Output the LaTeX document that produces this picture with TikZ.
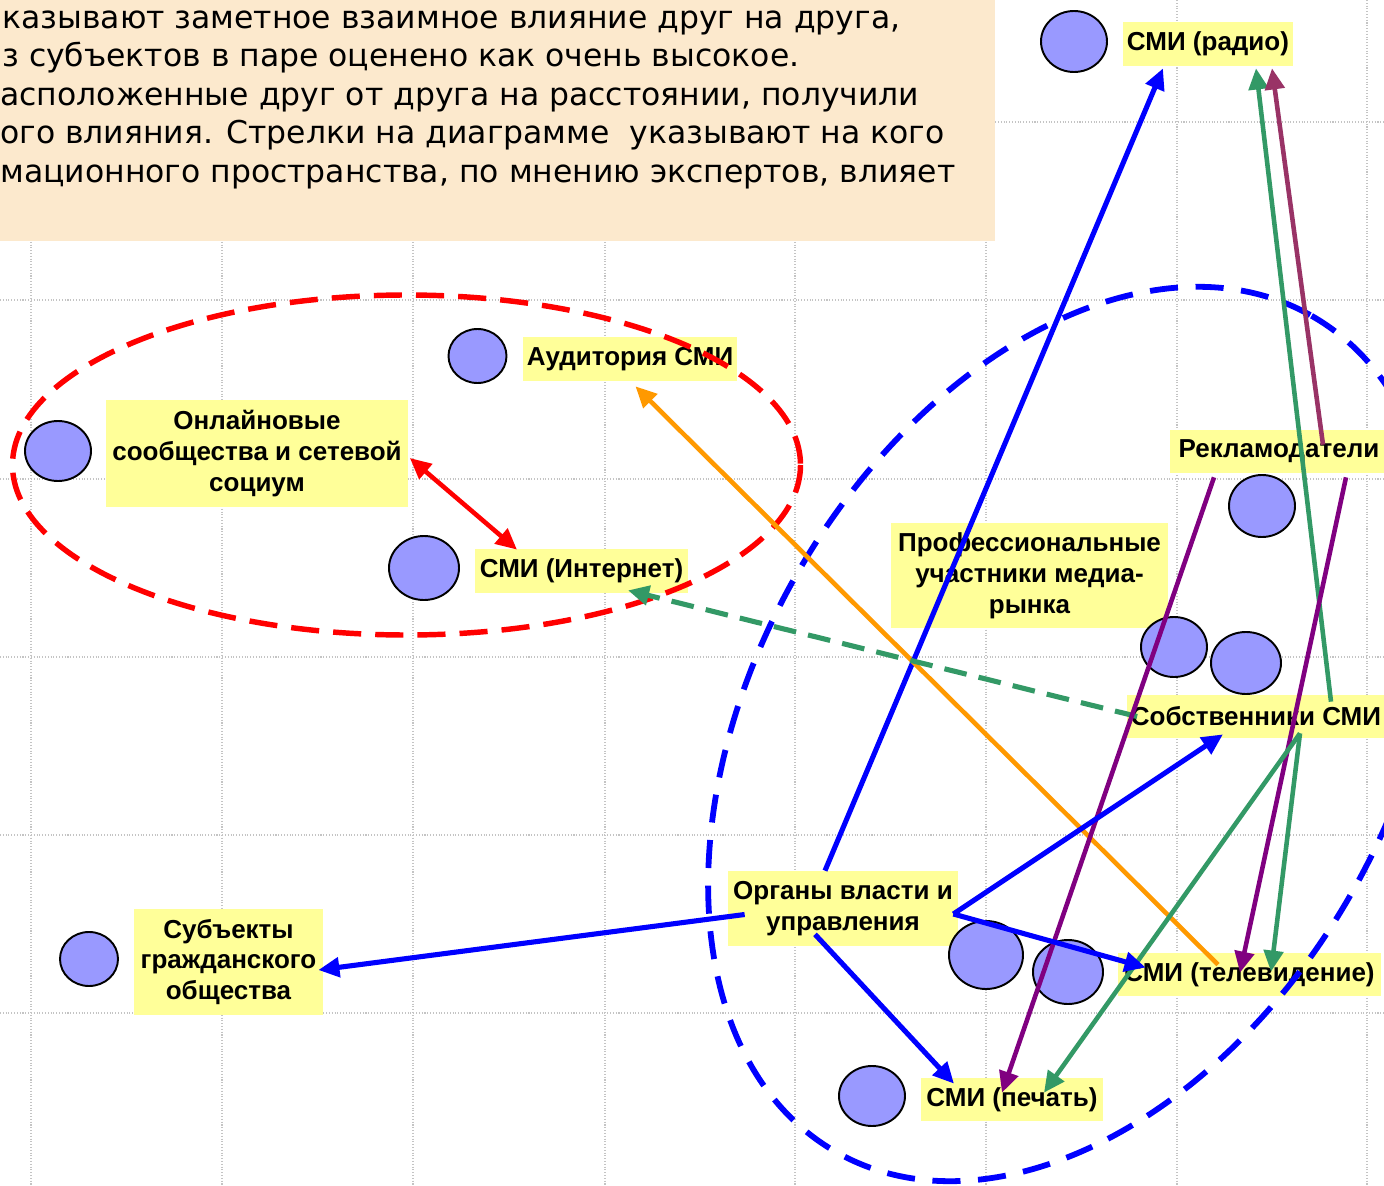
\documentclass[tikz,border=0pt]{standalone}
\usepackage{fontspec}
\setmainfont{Liberation Sans}
\newfontfamily\notefamily{DejaVu Sans}
\usetikzlibrary{arrows.meta,shapes.geometric,calc}

\definecolor{notebg}{HTML}{FCE9CD}
\definecolor{lblbg}{HTML}{FFFF99}
\definecolor{dotfill}{HTML}{9999FF}
\definecolor{ogreen}{HTML}{339966}
\definecolor{wine}{HTML}{993366}
\definecolor{plum}{HTML}{800080}
\definecolor{amber}{HTML}{FF9900}
\definecolor{gridc}{HTML}{C4C4C4}

\newlength\pxu
\setlength\pxu{0.02cm}

\tikzset{
  wh/.style 2 args={minimum width={#1*\pxu}, minimum height={#2*\pxu}},
  gridline/.style={draw=gridc, line width=0.6pt, densely dotted},
  lbl/.style={fill=lblbg, inner sep=0pt, align=center,
    font=\bfseries\fontsize{14.8}{17.6}\selectfont},
  dot/.style={ellipse, draw=black, line width=1.1pt, fill=dotfill, inner sep=0pt},
  notetext/.style={anchor=base west, inner sep=0pt,
    font=\notefamily\fontsize{17.9}{21.8}\selectfont},
  tip/.style={-{Triangle[length=12pt,width=11pt]}},
  link/.style={tip, line width=2.6pt},
  govlink/.style={link, blue, line width=2.9pt},
  ring/.style={line width=3.1pt, dash pattern=on 16pt off 8pt},
}

\begin{document}
\begin{tikzpicture}[x=0.02cm,y=-0.02cm]
\useasboundingbox (0,0) rectangle (1384,1186);
\clip (0,0) rectangle (1384,1186);
\fill[white] (0,0) rectangle (1384,1186);

% background grid
\foreach \gx in {31,222,413,605,795,986,1177,1367}
  \draw[gridline] (\gx,0) -- (\gx,1186);
\foreach \gy in {122,300,479,657,835,1013}
  \draw[gridline] (0,\gy) -- (1384,\gy);

% explanatory note
\node[fill=notebg, inner sep=0pt, anchor=north west, wh={995}{241}] (notepanel) at (0,0) {};
\node[notetext] (note1) at (2,28.5) {казывают заметное взаимное влияние друг на друга,};
\node[notetext] (note2) at (2,67) {з субъектов в паре оценено как очень высокое.};
\node[notetext] (note3) at (0,105.5) {асположенные друг от друга на расстоянии, получили};
\node[notetext] (note4) at (0,144) {ого влияния. Стрелки на диаграмме\ \ указывают на кого};
\node[notetext] (note5) at (0,182.5) {мационного пространства, по мнению экспертов, влияет};

% actor labels
\node[lbl, wh={170}{44}] (radio) at (1208,44) {СМИ (радио)};
\node[lbl, wh={214}{44}] (aud) at (630,359) {Аудитория СМИ};
\node[lbl, wh={302}{107}] (onl) at (257,453.5) {Онлайновые\\сообщества и сетевой\\социум};
\node[lbl, wh={213}{44}] (inet) at (581.5,571) {СМИ (Интернет)};
\node[lbl, wh={218}{43}] (adv) at (1279,451.5) {Рекламодатели};
\node[lbl, wh={277}{105}] (prof) at (1029.5,575.5) {Профессиональные\\участники медиа-\\рынка};
\node[lbl, wh={259}{43}] (own) at (1256,716.5) {Собственники СМИ};
\node[lbl, wh={230}{75}] (org) at (843,908.5) {Органы власти и\\управления};
\node[lbl, wh={263}{43}] (tv) at (1249.5,974.5) {СМИ (телевидение)};
\node[lbl, wh={182}{43}] (print) at (1012,1099.5) {СМИ (печать)};
\node[lbl, wh={189}{106}] (civ) at (228.5,962) {Субъекты\\гражданского\\общества};

% position markers
\node[dot, wh={66}{61}] (dradio) at (1074,41.5) {};
\node[dot, wh={58}{54}] (daud) at (477.5,356) {};
\node[dot, wh={66}{60}] (donl) at (58,451) {};
\node[dot, wh={70}{64}] (dinet) at (424,568) {};
\node[dot, wh={66}{62}] (dadv) at (1262,506) {};
\node[dot, wh={66}{60}] (dprofa) at (1174,647) {};
\node[dot, wh={70}{62}] (dprofb) at (1246,663) {};
\node[dot, wh={74}{68}] (dorga) at (986,955) {};
\node[dot, wh={70}{64}] (dorgb) at (1068,972) {};
\node[dot, wh={66}{60}] (dprint) at (872,1096) {};
\node[dot, wh={58}{54}] (dciv) at (89,959) {};

% clusters
\draw[ring, red] (406.5,465) ellipse [x radius=394, y radius=170];
\draw[ring, blue, line width=3.3pt, dash pattern=on 16pt off 10pt,
      rotate around={60.4:(1074,734)}]
  (1074,734) ellipse [x radius=481, y radius=320];

% influences
\draw[govlink] ($(org.north)+(-18,0)$) -- ($(radio.south)+(-45,2)$);
\draw[link, ogreen] ($(own.north)+(75,7)$) -- ($(radio.south)+(48,2)$);
\draw[link, wine] ($(adv.north)+(44,15)$) -- ($(radio.south)+(64,2)$);
\draw[link, red, {Triangle[length=12pt,width=11pt]}-{Triangle[length=12pt,width=11pt]}]
  ($(onl.east)+(1.5,4.5)$) -- ($(inet.north)+(-64.5,1)$);
\draw[link, amber] ($(tv.north)+(-31.5,12)$) -- ($(aud.south)+(5.5,5)$);
\draw[link, ogreen, line width=2.9pt, dash pattern=on 13pt off 7pt]
  ($(own.west)+(11,0)$) -- ($(inet.south)+(46.5,-3)$);
\draw[link, plum] ($(adv.south)+(-65,4)$) -- ($(print.north)+(-10,15)$);
\draw[link, plum] ($(adv.south)+(67,4)$) -- ($(tv.north)+(-9.5,20)$);
\draw[link, ogreen] ($(own.south)+(44,-5)$) -- ($(print.north)+(32,15)$);
\draw[link, ogreen] ($(own.south)+(44,-5)$) -- ($(tv.north)+(21.5,19)$);
\draw[govlink] ($(org.east)+(-5,5.5)$) -- ($(own.south)+(-33,-4)$);
\draw[govlink] ($(org.east)+(-5,5.5)$) -- ($(tv.west)+(28,-7)$);
\draw[govlink] ($(org.south)+(-28,-12)$) -- ($(print.north)+(-58,6)$);
\draw[govlink] ($(org.west)+(17,6)$) -- ($(civ.east)+(-5,8)$);
\end{tikzpicture}
\end{document}
